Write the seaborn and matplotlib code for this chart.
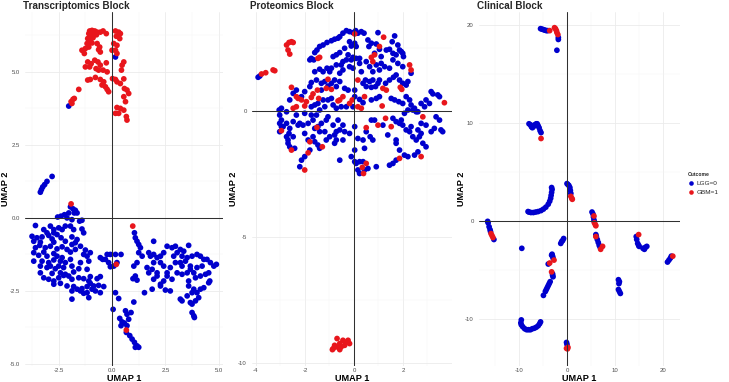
import matplotlib
matplotlib.use("Agg")
import matplotlib.pyplot as plt
import pandas as pd
import seaborn as sns

# ---------------- data (UMAP coordinates) ----------------
outcome_labels = ["LGG=0", "GBM=1"]
outcome_colors = ["#0000CD", "#E8161C"]
panel_titles = ["Transcriptomics Block", "Proteomics Block", "Clinical Block"]

# Transcriptomics block
tr_lgg = [
    (-2.03, 3.83), (0.16, 5.51),
    (-3.36, 0.88), (-3.31, 0.97), (-3.25, 1.06), (-3.16, 1.14), (-3.05, 1.25), (-2.81, 1.42),
    (-1.95, 0.38), (-1.83, 0.31), (-1.77, 0.17), (-2.03, 0.17), (-1.72, 0.26),
    (-2.55, 0.03), (-2.39, 0.06), (-2.23, 0.11), (-2.11, 0.00), (-1.88, -0.06), (-1.64, 0.17), (-1.52, -0.11), (-1.41, -0.08),
    (-3.59, -0.26), (-3.20, -0.40), (-2.89, -0.28), (-2.73, -0.40), (-2.50, -0.34), (-2.34, -0.40), (-2.19, -0.28), (-1.95, -0.28),
    (-1.80, -0.40), (-1.41, -0.38), (-3.05, -0.51), (-2.73, -0.51), (-1.33, -0.51),
    (-3.75, -0.63), (-3.52, -0.68), (-3.28, -0.65), (-2.97, -0.60), (-2.81, -0.72), (-2.58, -0.57), (-2.39, -0.68), (-1.88, -0.65),
    (-1.64, -0.74), (-3.67, -0.80), (-3.36, -0.83), (-2.73, -0.83), (-2.19, -0.80), (-1.72, -0.85),
    (-3.59, -1.02), (-3.39, -0.94), (-3.13, -1.02), (-2.89, -0.97), (-2.58, -1.06), (-2.34, -0.99), (-2.11, -1.08), (-1.48, -0.97),
    (-1.25, -1.10), (-1.88, -0.91), (-1.72, -1.08), (-3.67, -1.19), (-3.20, -1.17), (-2.73, -1.22), (-1.95, -1.17),
    (-3.44, -1.28), (-3.05, -1.31), (-2.58, -1.31), (-2.34, -1.36), (-1.33, -1.25), (-1.17, -1.31), (-1.02, -1.19), (-1.95, -1.42),
    (-3.67, -1.48), (-3.28, -1.48), (-2.97, -1.53), (-2.73, -1.44), (-2.42, -1.48), (-2.19, -1.53), (-1.48, -1.53), (-1.09, -1.48),
    (-3.36, -1.65), (-3.05, -1.70), (-2.89, -1.65), (-2.66, -1.74), (-2.50, -1.65), (-2.27, -1.70), (-1.88, -1.65), (-1.56, -1.74),
    (-1.17, -1.76), (-3.36, -1.88), (-2.81, -1.90), (-2.42, -1.88), (-2.19, -1.93), (-1.80, -1.85),
    (-3.20, -2.05), (-2.97, -2.10), (-2.73, -2.16), (-2.50, -2.05), (-2.27, -1.97), (-2.03, -1.99), (-1.88, -2.10), (-1.56, -2.05),
    (-1.33, -2.08), (-1.09, -2.16), (-1.02, -2.01), (-0.70, -2.08), (-0.55, -2.01), (-2.73, -2.27), (-2.42, -2.24),
    (-2.11, -2.33), (-1.80, -2.35), (-1.64, -2.44), (-1.41, -2.42), (-1.17, -2.35), (-1.02, -2.24), (-0.86, -2.33), (-0.63, -2.31),
    (-0.39, -2.35), (-0.78, -2.50), (-0.55, -2.56), (-1.88, -2.50), (-1.17, -2.56), (-1.09, -2.73), (-1.33, -2.58), (-1.88, -2.78),
    (-1.48, -2.50), (-0.94, -2.44),
    (-0.23, -1.25), (-0.08, -1.25), (0.16, -1.25), (0.42, -1.25), (-0.55, -1.36), (-0.31, -1.42), (-0.16, -1.53), (0.23, -1.53),
    (0.08, -1.65), (-0.08, -1.67), (-0.44, -1.42),
    (0.16, -2.56), (0.31, -2.76), (0.05, -3.13), (0.63, -3.18), (0.70, -3.30), (0.36, -3.44), (0.47, -3.56), (0.58, -3.60),
    (0.42, -3.69), (0.70, -3.69), (0.89, -3.24), (1.02, -2.88), (0.78, -3.47), (0.67, -3.92), (0.83, -4.03), (0.94, -4.15),
    (1.05, -4.26), (1.17, -4.38), (1.25, -4.43), (1.09, -4.43),
    (1.05, -0.51), (1.09, -0.68), (1.17, -0.80), (1.25, -0.91), (1.33, -1.02), (1.25, -1.19), (1.41, -1.31), (1.17, -1.53),
    (1.02, -1.65), (1.09, -1.99), (1.17, -2.13), (0.98, -2.08),
    (1.95, -0.80), (1.72, -1.19), (1.80, -1.31), (1.95, -1.25), (2.11, -1.36), (2.27, -1.31), (2.42, -1.19), (2.58, -0.97),
    (2.81, -1.02), (2.97, -0.97), (3.20, -1.08), (3.36, -1.14), (3.59, -0.94),
    (2.27, -1.53), (1.95, -1.53), (1.64, -1.70), (1.88, -1.76), (2.11, -1.88), (2.42, -1.65), (2.58, -1.88), (2.73, -1.70),
    (2.97, -1.53), (3.20, -1.53), (3.44, -1.48), (3.52, -1.36), (3.75, -1.31), (3.98, -1.25), (4.14, -1.31), (4.30, -1.42),
    (4.45, -1.42), (4.61, -1.53), (4.77, -1.65), (4.89, -1.59),
    (1.72, -1.88), (2.11, -1.99), (1.95, -2.10), (2.42, -2.16), (2.27, -2.27), (2.58, -1.99), (2.81, -2.10), (3.05, -1.88),
    (3.28, -1.93), (3.52, -1.88), (3.67, -1.76), (3.83, -1.88), (3.91, -2.05), (4.14, -1.99), (4.38, -1.93), (4.53, -1.88),
    (3.98, -1.70), (4.22, -1.65),
    (1.52, -2.56), (1.88, -2.44), (2.27, -2.33), (2.50, -2.47), (2.73, -2.50), (3.20, -2.78), (3.28, -2.84), (3.52, -2.67),
    (3.67, -2.90), (3.75, -2.95), (3.91, -2.84), (4.06, -2.73), (3.98, -2.56), (4.14, -2.44), (4.30, -2.39), (4.53, -2.22),
    (4.58, -2.16), (3.75, -3.24), (3.83, -3.35), (3.86, -3.41), (3.59, -2.16), (3.59, -2.33), (3.83, -2.44), (3.75, -2.56),
    (3.05, -1.19), (3.28, -1.31), (2.89, -1.31), (3.67, -1.65), (3.28, -1.65),
]
tr_gbm = [
    (-1.05, 6.40), (-0.94, 6.42), (-0.81, 6.40), (-0.70, 6.36), (-0.55, 6.36), (-0.42, 6.40), (-0.27, 6.31), (-1.09, 6.31),
    (-0.98, 6.25), (-0.86, 6.31), (-0.73, 6.27), (-1.14, 6.14), (-1.02, 6.11), (-0.89, 6.17), (-1.05, 6.02), (-1.17, 5.97),
    (-0.94, 5.99), (-0.70, 5.97), (-0.58, 5.85), (-1.41, 5.74), (-1.25, 5.80), (-1.09, 5.85), (-1.30, 5.63), (-0.63, 5.76),
    (-0.55, 5.68),
    (0.16, 6.40), (0.31, 6.36), (0.39, 6.31), (0.20, 6.22), (0.36, 6.14), (0.08, 5.97), (0.23, 5.91), (0.00, 5.74),
    (0.16, 5.74), (0.23, 5.63),
    (-1.14, 5.34), (-0.98, 5.28), (-0.81, 5.40), (-0.66, 5.34), (-0.55, 5.23), (-0.27, 5.31), (-1.25, 5.17), (-1.05, 5.17),
    (-0.75, 5.11), (-0.63, 5.06), (-0.42, 5.06), (-0.23, 5.00), (0.55, 5.34), (0.47, 5.23), (0.44, 5.06),
    (-1.14, 4.72), (-1.02, 4.74), (-0.78, 4.81), (-0.55, 4.74), (-0.39, 4.66), (0.02, 4.77), (0.16, 4.74), (0.55, 4.76),
    (-0.47, 4.55), (-0.31, 4.49), (-0.23, 4.40), (-0.16, 4.32), (0.23, 4.66), (0.39, 4.60), (0.58, 4.43), (0.70, 4.38),
    (0.78, 4.26), (0.55, 4.15), (0.63, 3.98), (0.23, 3.78), (0.39, 3.75), (0.55, 3.69), (0.16, 3.58), (0.31, 3.58),
    (0.67, 3.47), (0.70, 3.35), (-1.56, 4.40),
    (-1.92, 3.98), (-1.83, 4.06), (-1.77, 4.09), (-1.88, 3.92),
    (-1.92, 0.48), (0.20, -1.59), (0.67, -3.84), (0.97, -0.28),
]

# Proteomics block
pr_lgg = [
    (-3.91, 1.34), (-3.84, 1.39),
    (-0.31, 3.19), (-0.18, 3.15), (-0.04, 3.11), (0.07, 3.19), (0.16, 3.09), (0.30, 3.15), (0.41, 3.09), (-0.45, 3.09),
    (-0.58, 2.95), (-0.65, 2.89), (-0.79, 2.85), (-0.92, 2.79), (-1.10, 2.72), (-1.26, 2.62), (-1.40, 2.56), (-1.51, 2.42),
    (-1.60, 2.32), (-1.74, 2.09), (-1.80, 2.03), (-1.64, 2.03), (0.98, 3.11), (1.66, 2.98), (1.56, 2.75), (1.79, 2.62),
    (1.86, 2.42), (1.99, 2.29), (1.93, 2.36), (2.02, 2.16), (0.57, 2.82), (0.71, 2.69), (0.61, 2.56), (0.91, 2.66),
    (1.04, 2.45), (0.84, 2.29), (1.11, 2.16), (1.32, 2.42), (1.45, 2.45), (1.59, 2.29), (1.72, 2.23),
    (-0.18, 2.75), (0.03, 2.69), (0.09, 2.56), (-0.11, 2.58), (-0.38, 2.49), (-0.58, 2.32), (-0.72, 2.23), (-0.85, 2.16),
    (-0.24, 2.23), (-0.04, 2.13), (-0.31, 2.03), (-0.11, 2.03), (0.09, 2.09), (0.23, 2.09), (-0.45, 1.96), (-0.52, 1.83),
    (-0.72, 1.83), (-0.92, 1.70), (-1.10, 1.70), (-1.40, 1.66), (-1.26, 1.56), (-1.60, 1.56), (-0.99, 1.56), (-0.58, 1.50),
    (-0.45, 1.63), (-0.18, 1.76), (-0.04, 1.70), (0.30, 1.56), (0.23, 1.89), (0.50, 1.96), (0.64, 1.76), (0.77, 1.56),
    (0.91, 1.83), (1.11, 1.89), (1.25, 1.76), (1.45, 1.70), (1.59, 2.03), (1.79, 1.89), (1.99, 1.76), (1.04, 1.63),
    (1.72, 1.43), (1.61, 1.34), (1.86, 1.23), (1.99, 1.10), (2.13, 1.03), (2.20, 1.17), (2.33, 1.50), (1.45, 1.23),
    (1.29, 1.10), (1.04, 1.23), (0.77, 1.23), (0.64, 1.17), (0.47, 1.23), (0.37, 1.10), (0.50, 0.97), (0.71, 0.94),
    (0.88, 0.97), (0.98, 1.10),
    (-1.53, 1.23), (-1.74, 1.13), (-1.33, 1.10), (-1.19, 1.17), (-0.92, 1.10), (-0.79, 1.23), (-0.58, 1.17), (-0.38, 0.90),
    (-0.24, 0.83), (-0.72, 0.97), (-1.06, 0.99), (-1.33, 0.83), (-1.80, 0.97), (-2.01, 0.77), (-2.14, 0.57), (-2.35, 0.83),
    (-2.48, 0.70), (-2.62, 0.44), (-1.47, 0.30), (-1.26, 0.44), (-1.06, 0.44), (-0.92, 0.50), (-1.19, 0.17), (-1.40, 0.04),
    (-1.60, 0.24), (-1.74, 0.17), (-0.85, 0.24), (-0.72, 0.11), (-0.52, 0.17), (-0.31, 0.17), (-0.04, 0.17), (0.03, 0.57),
    (0.23, 0.46), (0.37, 0.33), (0.03, 0.83), (0.71, 0.44), (0.91, 0.50), (1.04, 0.57), (1.52, 0.50), (1.66, 0.44),
    (1.83, 0.37), (1.99, 0.30), (2.13, 0.57), (2.27, 0.44), (2.33, 0.24), (2.47, 0.11), (2.61, -0.03), (2.74, 0.30),
    (2.88, 0.17), (2.94, 0.44), (3.15, 0.77), (3.22, 0.68), (3.42, 0.64), (3.49, 0.57), (3.08, 0.30), (3.35, -0.23),
    (3.49, -0.36), (3.55, -0.75), (3.62, -0.82), (3.28, -0.69), (3.15, -0.82), (2.94, -0.56), (2.74, -0.49), (2.54, -0.03),
    (2.40, 0.04), (2.20, 0.04), (2.06, -0.09), (1.93, -0.36), (1.72, -0.42), (1.59, -0.29), (1.86, -0.49), (1.99, -0.56),
    (2.13, -0.75), (2.27, -0.82), (2.40, -1.02), (2.54, -1.15), (2.67, -1.02), (2.74, -0.89), (2.61, -0.75), (2.33, -0.62),
    (2.81, -1.28), (2.94, -1.42), (2.61, -1.62), (2.47, -1.75), (2.20, -1.81), (2.06, -1.75), (1.72, -1.95), (1.59, -2.08),
    (1.45, -2.15), (1.72, -1.15), (1.72, -1.28), (1.86, -1.55), (1.38, -0.95), (1.18, -0.56), (0.84, -0.36), (0.71, -0.36),
    (0.50, -0.82), (0.66, -1.02), (0.77, -1.15), (0.37, -1.15), (0.03, -0.62), (-0.18, -0.89), (-0.38, -0.82), (-0.58, -0.75),
    (-0.72, -0.82), (-0.79, -0.95), (-0.45, -0.56), (-0.65, -0.36), (-0.85, -0.56), (-1.06, -0.23), (-1.13, -0.36), (-1.33, -0.49),
    (-1.67, -0.36), (-1.87, -0.49), (-2.08, -0.56), (-2.28, -0.56), (-2.21, -0.49), (-2.48, -0.42), (-2.75, -0.49), (-2.89, -0.62),
    (-2.96, -0.36), (-3.03, -0.16), (-3.05, 0.04), (-2.96, 0.11), (-2.75, -0.03), (-2.35, -0.16), (-2.01, -0.09), (-1.74, -0.16),
    (-1.53, -0.16), (-1.40, -0.82), (-1.60, -1.22), (-1.47, -1.35), (-1.40, -1.48), (-1.67, -1.02), (-2.01, -0.89), (-1.87, -1.15),
    (-1.80, -1.55), (-2.01, -1.81), (-2.14, -1.95), (-2.21, -2.21), (-2.42, -1.48), (-2.62, -1.42), (-2.69, -1.15), (-2.65, -0.89),
    (-2.48, -1.02), (-2.62, -0.69), (-3.03, -0.49), (-2.96, -0.62), (-0.58, -1.95), (-0.11, -1.81), (0.03, -2.01), (0.09, -2.08),
    (0.23, -2.01), (0.37, -2.01), (0.16, -2.34), (0.23, -2.48), (0.43, -2.34), (0.57, -2.28), (0.91, -2.21), (-1.60, -0.69),
    (-1.19, -0.82), (-1.47, -0.62), (0.03, -1.55), (0.43, -1.48), (0.16, -1.09), (-0.45, -1.15), (-0.72, -1.15), (-0.99, -1.02),
    (-0.79, -1.28), (-1.13, -1.15), (-3.03, -0.82), (-2.69, -1.28), (-2.75, -1.02),
]
pr_gbm = [
    (-2.75, 2.62), (-2.65, 2.72), (-2.55, 2.75), (-2.48, 2.72), (-2.69, 2.42), (-2.62, 2.26), (-3.77, 1.47), (-3.60, 1.52),
    (-3.30, 1.63), (-3.23, 1.60), (-1.47, 2.09), (-1.40, 2.13), (-1.06, 1.26), (-1.49, 0.83), (-1.67, 0.68), (-1.74, 0.54),
    (-1.94, 0.37), (-2.01, 0.20), (-2.48, 0.11), (-2.35, 0.17), (-2.55, 0.94), (-2.28, 0.50), (-2.35, 0.57), (-1.44, 0.50),
    (-1.51, -0.65), (-2.96, -0.78), (-2.55, -1.55), (-1.80, -1.22), (-1.87, -1.66), (-1.29, -1.42), (-1.13, 0.90), (-0.92, 0.86),
    (-0.58, 0.44), (-0.65, 0.40), (-0.18, 0.30), (0.16, 1.23), (0.03, 3.06), (-0.07, 0.44), (0.16, 0.17), (0.30, 0.11),
    (0.43, 0.57), (0.50, -0.66), (0.71, 2.13), (0.77, 1.96), (0.84, 2.23), (1.04, 2.56), (1.21, 2.93), (1.18, 0.90),
    (1.32, 0.83), (1.15, 0.20), (1.29, -0.29), (0.98, -0.56), (1.52, -0.62), (1.89, 0.94), (1.95, 0.86), (2.27, 1.83),
    (2.33, 1.63), (2.81, -0.23), (3.69, 0.33), (1.86, -1.88), (2.74, -1.81), (0.50, -2.08), (0.39, -2.48), (0.34, -2.24),
    (-2.01, -2.34), (-0.45, 0.57), (-2.14, 0.44),
    (-0.85, -9.43), (-0.72, -9.36), (-0.58, -9.23), (-0.45, -9.10), (-0.31, -9.17), (-0.18, -9.23), (-0.58, -9.47), (-0.69, -9.03),
    (-0.38, -9.30), (-0.24, -9.10), (-0.79, -9.30), (-0.88, -9.47), (-0.52, -9.36),
]

# Clinical block
cl_lgg = [
    (-5.5, 19.6), (-5.2, 19.55), (-4.9, 19.5), (-4.6, 19.45), (-4.3, 19.4), (-4.0, 19.4), (-1.8, 18.7), (-1.8, 18.5), (-2.1, 17.4),
    (-7.9, 9.9), (-7.6, 9.8), (-7.4, 9.6), (-7.2, 9.5), (-7.0, 9.6), (-6.7, 9.8), (-6.4, 9.9), (-6.2, 9.9), (-6.0, 9.7),
    (-5.8, 9.5), (-5.6, 9.2), (-5.4, 9.0),
    (0.0, 3.8), (0.2, 3.7), (0.4, 3.6), (0.6, 3.4), (0.7, 3.1), (0.8, 2.8),
    (-3.2, 3.4), (-3.1, 3.2), (-3.2, 2.9), (-3.3, 2.6), (-3.4, 2.3), (-3.6, 2.0), (-3.9, 1.7), (-4.4, 1.4), (-4.9, 1.2),
    (-5.4, 1.05), (-6.0, 0.95), (-6.5, 0.9), (-7.0, 0.85), (-7.5, 0.85), (-7.9, 0.9), (-8.1, 0.95),
    (5.2, 0.9), (5.4, 0.7), (5.5, 0.4), (5.6, 0.1), (5.7, -0.1),
    (6.0, -1.4), (6.1, -1.6), (6.3, -1.9), (6.5, -2.2), (6.7, -2.5), (6.9, -2.7),
    (-16.5, -0.05), (-16.4, -0.2), (-16.2, -0.6), (-16.0, -0.9), (-15.9, -1.1), (-15.2, -1.9),
    (-9.4, -2.8), (-1.1, -2.1), (-0.9, -2.0), (-0.7, -1.8), (-1.3, -2.3),
    (-3.1, -3.4), (-3.0, -3.6), (-2.9, -3.8), (-3.2, -3.5), (-3.9, -4.4),
    (-3.0, -5.4), (-2.9, -5.7), (-3.0, -5.55),
    (-3.5, -6.2), (-3.7, -6.4), (-3.9, -6.6), (-4.1, -6.8), (-4.3, -7.0), (-4.5, -7.2), (-4.9, -7.6),
    (-9.5, -10.1), (-9.6, -10.4), (-9.5, -10.6), (-9.2, -10.8), (-8.8, -11.0), (-8.4, -11.1), (-8.0, -11.1), (-7.6, -11.1),
    (-7.2, -11.0), (-6.8, -10.95), (-6.4, -10.85), (-6.0, -10.7), (-5.7, -10.5), (-5.5, -10.3),
    (-0.1, -12.4), (0.0, -12.6),
    (14.4, -1.6), (14.5, -1.9), (14.7, -2.3), (14.9, -2.5), (15.0, -2.6),
    (15.8, -2.8), (16.3, -2.7), (16.6, -2.6), (16.1, -2.9),
    (10.7, -6.0), (10.9, -6.2), (10.8, -6.4), (10.7, -7.0), (10.9, -7.2), (11.1, -7.4),
    (20.9, -4.2), (21.2, -4.0), (21.5, -3.8), (21.7, -3.6),
]
cl_gbm = [
    (-3.6, 19.4), (-2.6, 19.7), (-2.4, 19.6), (-2.2, 19.4), (-2.1, 19.2), (-1.9, 19.0),
    (-5.4, 8.4),
    (0.8, 2.5), (1.0, 2.3), (1.1, 2.2),
    (5.6, 0.5), (5.7, -0.2), (5.9, -0.4), (6.0, -0.5),
    (6.0, -1.6), (7.4, -2.6), (7.0, -2.9),
    (-15.8, -1.3), (-15.6, -1.5), (-15.4, -1.7),
    (-2.7, -4.0), (-3.6, -4.3), (-3.2, -5.2),
    (-0.1, -13.0), (0.2, -12.9), (0.1, -13.05),
    (14.9, -1.4),
    (22.0, -3.6),
]

# axis ticks and labels
tr_xticks = [-2.5, 0.0, 2.5, 5.0]
tr_xticklabels = ["-2.5", "0.0", "2.5", "5.0"]
tr_yticks = [-5.0, -2.5, 0.0, 2.5, 5.0]
tr_yticklabels = ["-5.0", "-2.5", "0.0", "2.5", "5.0"]
pr_xticks = [-4, -2, 0, 2]
pr_xticklabels = ["-4", "-2", "0", "2"]
pr_yticks = [-10, -5, 0]
pr_yticklabels = ["-10", "-5", "0"]
cl_xticks = [-10, 0, 10, 20]
cl_xticklabels = ["-10", "0", "10", "20"]
cl_yticks = [-10, 0, 10, 20]
cl_yticklabels = ["-10", "0", "10", "20"]

# ---------------- figure ----------------
sns.set_theme(style="white")
plt.rcParams["font.family"] = ["Liberation Sans", "DejaVu Sans"]

W, H = 729, 382
fig = plt.figure(figsize=(W / 100, H / 100), dpi=100)

panels = [
    dict(lgg=tr_lgg, gbm=tr_gbm, title=panel_titles[0], left=25, width=198,
         xlim=(-4.08, 5.2), ylim=(-5.07, 7.05),
         xt=tr_xticks, xtl=tr_xticklabels, yt=tr_yticks, ytl=tr_yticklabels,
         xminor=[-3.75, -1.25, 1.25, 3.75], yminor=[-3.75, -1.25, 1.25, 3.75, 6.25], ylab_x=-0.10),
    dict(lgg=pr_lgg, gbm=pr_gbm, title=panel_titles[1], left=252, width=200,
         xlim=(-4.16, 4.0), ylim=(-10.12, 3.93),
         xt=pr_xticks, xtl=pr_xticklabels, yt=pr_yticks, ytl=pr_yticklabels,
         xminor=[-3, -1, 1, 3], yminor=[-7.5, -2.5, 2.5], ylab_x=-0.095),
    dict(lgg=cl_lgg, gbm=cl_gbm, title=panel_titles[2], left=479, width=201,
         xlim=(-18.3, 23.5), ylim=(-14.8, 21.3),
         xt=cl_xticks, xtl=cl_xticklabels, yt=cl_yticks, ytl=cl_yticklabels,
         xminor=[-15, -5, 5, 15], yminor=[-5, 5, 15], ylab_x=-0.085),
]

palette = dict(zip(outcome_labels, outcome_colors))
legend_handles = None
for i, p in enumerate(panels):
    ax = fig.add_axes([p["left"] / W, 16 / H, p["width"] / W, 354 / H])
    df = pd.DataFrame({
        "UMAP1": [q[0] for q in p["lgg"]] + [q[0] for q in p["gbm"]],
        "UMAP2": [q[1] for q in p["lgg"]] + [q[1] for q in p["gbm"]],
        "Outcome": [outcome_labels[0]] * len(p["lgg"]) + [outcome_labels[1]] * len(p["gbm"]),
    })
    sns.scatterplot(data=df, x="UMAP1", y="UMAP2", hue="Outcome", hue_order=outcome_labels,
                    palette=palette, s=17, linewidth=0, alpha=1.0, ax=ax,
                    legend=(i == 2), zorder=2)
    ax.axhline(0, color="#303030", lw=0.75, zorder=3)
    ax.axvline(0, color="#303030", lw=0.75, zorder=3)
    ax.set_xlim(*p["xlim"])
    ax.set_ylim(*p["ylim"])
    ax.set_xticks(p["xt"])
    ax.set_xticklabels(p["xtl"])
    ax.set_yticks(p["yt"])
    ax.set_yticklabels(p["ytl"])
    ax.set_xticks(p["xminor"], minor=True)
    ax.set_yticks(p["yminor"], minor=True)
    ax.grid(which="major", color="#EBEBEB", lw=0.6, zorder=0)
    ax.grid(which="minor", color="#F4F4F4", lw=0.35, zorder=0)
    ax.set_axisbelow(True)
    for sp in ax.spines.values():
        sp.set_visible(False)
    ax.tick_params(axis="both", which="both", length=0, labelsize=4.3, labelcolor="#4D4D4D")
    ax.tick_params(axis="x", pad=1.2)
    ax.tick_params(axis="y", pad=3.8)
    ax.set_xlabel("UMAP 1", fontsize=6.6, fontweight="bold", color="black", va="center")
    ax.set_ylabel("UMAP 2", fontsize=6.6, fontweight="bold", color="black", va="center")
    ax.xaxis.set_label_coords(0.5, -0.034)
    ax.yaxis.set_label_coords(p["ylab_x"], 0.5)
    ax.set_title(p["title"], loc="left", fontsize=7.1, fontweight="bold", pad=2.5, x=-0.012)
    if i == 2:
        legend_handles, legend_labels = ax.get_legend_handles_labels()
        ax.get_legend().remove()

leg = fig.legend(legend_handles, legend_labels, title="Outcome",
                 loc="upper left", bbox_to_anchor=(688 / W, 1 - 172 / H),
                 frameon=False, fontsize=4.6, markerscale=0.8,
                 handlelength=1.0, handletextpad=0.3, labelspacing=0.55,
                 borderpad=0.0, borderaxespad=0.0, alignment="left",
                 title_fontproperties={"weight": "bold", "size": 3.6})

fig.savefig("out.png", dpi=100, facecolor="white")
